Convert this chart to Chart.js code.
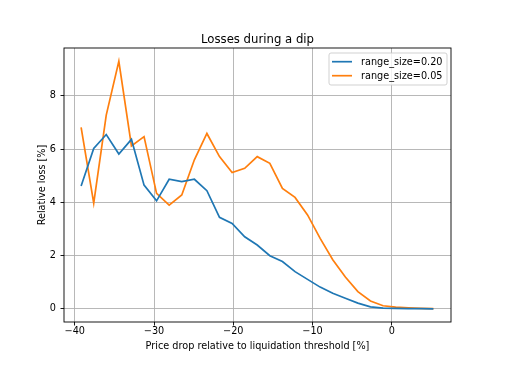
<!DOCTYPE html>
<html>
<head>
<meta charset="utf-8">
<script src="https://cdn.jsdelivr.net/npm/chart.js@4/dist/chart.umd.min.js"></script>
<style>
  html, body { margin: 0; padding: 0; background: #fff; }
  #wrap { width: 516px; height: 373px; }
</style>
</head>
<body>
<div id="wrap"><canvas id="lossChart"></canvas></div>
<script>
// price drop relative to liquidation threshold [%]
const priceDrop = [-39.2, -37.61, -36.03, -34.44, -32.85, -31.26, -29.68, -28.09, -26.5, -24.91,
  -23.33, -21.74, -20.15, -18.56, -16.98, -15.39, -13.8, -12.21, -10.63, -9.04,
  -7.45, -5.86, -4.28, -2.69, -1.1, 0.49, 2.08, 3.66, 5.25];

// relative loss [%]
const lossRange020 = [4.62, 6.03, 6.55, 5.82, 6.37, 4.65, 4.06, 4.87, 4.78, 4.87,
  4.44, 3.44, 3.21, 2.71, 2.40, 2.0, 1.78, 1.40, 1.11, 0.82,
  0.59, 0.40, 0.22, 0.08, 0.03, 0.02, 0.01, 0.01, 0.0];
const lossRange005 = [6.82, 3.97, 7.28, 9.3, 6.12, 6.47, 4.34, 3.90, 4.28, 5.6,
  6.59, 5.72, 5.12, 5.28, 5.72, 5.47, 4.53, 4.19, 3.53, 2.65,
  1.85, 1.2, 0.65, 0.3, 0.12, 0.07, 0.04, 0.02, 0.01];

const seriesNames = ['range_size=0.20', 'range_size=0.05'];
const chartTitle = 'Losses during a dip';
const xTicks = [-40, -30, -20, -10, 0];
const yTicks = [0, 2, 4, 6, 8];

const FONT = 'DejaVu Sans';
const FS = 9.7;

function toPoints(ys) {
  return priceDrop.map((x, i) => ({ x: x, y: ys[i] }));
}

// frame around the axes, title and legend box, matplotlib style
const framePlugin = {
  id: 'frame',
  afterDraw(chart) {
    const ctx = chart.ctx;
    const a = chart.chartArea;
    ctx.save();
    ctx.strokeStyle = '#000';
    ctx.lineWidth = 0.9;
    ctx.strokeRect(a.left, a.top, a.right - a.left, a.bottom - a.top);

    // title, centred over the axes
    ctx.fillStyle = '#000';
    ctx.font = '11.7px "' + FONT + '"';
    ctx.textAlign = 'center';
    ctx.textBaseline = 'alphabetic';
    ctx.fillText(chartTitle, (a.left + a.right) / 2, 43.3);

    // legend
    const bx = 329, by = 53, bw = 118, bh = 32;
    ctx.fillStyle = 'rgba(255,255,255,0.8)';
    ctx.strokeStyle = '#cccccc';
    ctx.lineWidth = 0.9;
    ctx.beginPath();
    ctx.roundRect(bx, by, bw, bh, 2);
    ctx.fill();
    ctx.stroke();
    ctx.font = FS + 'px "' + FONT + '"';
    ctx.textAlign = 'left';
    ctx.textBaseline = 'middle';
    chart.data.datasets.forEach(function(ds, i) {
      const yy = 61.7 + i * 14;
      ctx.strokeStyle = ds.borderColor;
      ctx.lineWidth = 1.7;
      ctx.beginPath();
      ctx.moveTo(332, yy);
      ctx.lineTo(352, yy);
      ctx.stroke();
      ctx.fillStyle = '#000';
      ctx.fillText(ds.label, 361, yy + 0.5);
    });
    ctx.restore();
  }
};

const ctx = document.getElementById('lossChart').getContext('2d');
new Chart(ctx, {
  type: 'line',
  data: {
    datasets: [{
      label: seriesNames[0],
      data: toPoints(lossRange020),
      borderColor: '#1f77b4',
      borderWidth: 1.7,
      pointRadius: 0,
      tension: 0,
      fill: false
    }, {
      label: seriesNames[1],
      data: toPoints(lossRange005),
      borderColor: '#ff7f0e',
      borderWidth: 1.7,
      pointRadius: 0,
      tension: 0,
      fill: false
    }]
  },
  plugins: [framePlugin],
  options: {
    responsive: true,
    maintainAspectRatio: false,
    animation: false,
    layout: { padding: { left: 36.2, right: 65, top: 48, bottom: 20.7 } },
    plugins: {
      legend: { display: false },
      tooltip: { enabled: false },
      title: { display: false }
    },
    scales: {
      x: {
        type: 'linear',
        min: -41.36,
        max: 7.47,
        afterBuildTicks: function(scale) {
          scale.ticks = xTicks.map(v => ({ value: v }));
        },
        afterFit: function(scale) { scale.height = 30.3; },
        grid: { color: '#b0b0b0', lineWidth: 0.9, tickColor: '#000', tickLength: 3.5 },
        border: { display: false },
        ticks: {
          color: '#000',
          padding: 0.5,
          maxRotation: 0,
          font: { family: FONT, size: FS },
          callback: v => String(v).replace('-', '\u2212')
        },
        title: {
          display: true,
          text: 'Price drop relative to liquidation threshold [%]',
          color: '#000',
          padding: 0,
          font: { family: FONT, size: FS }
        }
      },
      y: {
        type: 'linear',
        min: -0.49,
        max: 9.80,
        afterBuildTicks: function(scale) {
          scale.ticks = yTicks.map(v => ({ value: v }));
        },
        afterFit: function(scale) { scale.width = 27.8; },
        grid: { color: '#b0b0b0', lineWidth: 0.9, tickColor: '#000', tickLength: 3.5 },
        border: { display: false },
        ticks: {
          color: '#000',
          padding: 4.5,
          font: { family: FONT, size: FS }
        },
        title: {
          display: true,
          text: 'Relative loss [%]',
          color: '#000',
          padding: 0,
          font: { family: FONT, size: FS }
        }
      }
    }
  }
});
</script>
</body>
</html>
